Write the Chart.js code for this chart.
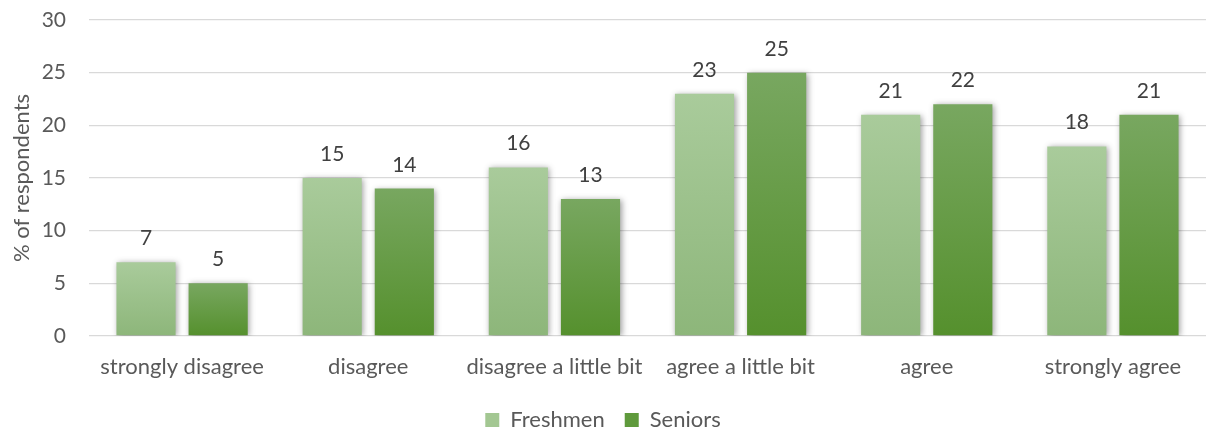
<!DOCTYPE html>
<html>
<head>
<meta charset="utf-8">
<script src="https://cdn.jsdelivr.net/npm/chart.js@4/dist/chart.umd.min.js"></script>
<style>
html,body{margin:0;padding:0;background:#fff;}
#wrap{width:1206px;height:432px;position:relative;}
</style>
</head>
<body>
<div id="wrap"><canvas id="c" width="1206" height="432"></canvas></div>
<script>
const categories = ["strongly disagree","disagree","disagree a little bit","agree a little bit","agree","strongly agree"];
const freshmen = [7,15,16,23,21,18];
const seniors = [5,14,13,25,22,21];
const seriesNames = ["Freshmen","Seniors"];
const yTicks = [0,5,10,15,20,25,30];

const FONT = "Lato, 'Open Sans', sans-serif";
const gradStops = [
  ["#a9cb9b","#8db67a"],
  ["#78a760","#55902d"]
];
const legendColors = ["#a3c792","#5f9a3c"];

function barGradient(ctx, dsIndex){
  const chart = ctx.chart;
  const y = chart.scales && chart.scales.y;
  if (!y || !chart.chartArea || ctx.raw === undefined) return legendColors[dsIndex];
  const top = y.getPixelForValue(ctx.raw);
  const base = y.getPixelForValue(0);
  const g = chart.ctx.createLinearGradient(0, top, 0, base);
  g.addColorStop(0, gradStops[dsIndex][0]);
  g.addColorStop(1, gradStops[dsIndex][1]);
  return g;
}

const shadowPlugin = {
  id: 'shadow',
  beforeDatasetsDraw(chart){
    const c = chart.ctx;
    c.save();
    c.shadowColor = 'rgba(0,0,0,0.38)';
    c.shadowBlur = 6;
    c.shadowOffsetX = 1.5;
    c.shadowOffsetY = 1;
  },
  afterDatasetsDraw(chart){
    chart.ctx.restore();
  }
};

const labelPlugin = {
  id: 'valueLabels',
  afterDatasetsDraw(chart){
    const c = chart.ctx;
    c.save();
    c.font = "21px " + FONT;
    c.fillStyle = "#404040";
    c.textAlign = "center";
    c.textBaseline = "alphabetic";
    chart.data.datasets.forEach((ds, i) => {
      const meta = chart.getDatasetMeta(i);
      meta.data.forEach((el, j) => {
        c.fillText(String(ds.data[j]), el.x, el.y - 17);
      });
    });
    c.restore();
  }
};

new Chart(document.getElementById('c'), {
  type: 'bar',
  data: {
    labels: categories,
    datasets: [
      { label: seriesNames[0], data: freshmen, backgroundColor: (ctx) => barGradient(ctx, 0),
        categoryPercentage: 0.775, barPercentage: 0.82 },
      { label: seriesNames[1], data: seniors, backgroundColor: (ctx) => barGradient(ctx, 1),
        categoryPercentage: 0.775, barPercentage: 0.82 }
    ]
  },
  options: {
    responsive: false,
    animation: false,
    devicePixelRatio: 1,
    layout: { padding: { top: 20, right: 0, left: 0, bottom: -9 } },
    plugins: {
      tooltip: { enabled: false },
      legend: {
        position: 'bottom',
        labels: {
          font: { family: FONT, size: 22 },
          color: "#595959",
          boxWidth: 14, boxHeight: 14,
          padding: 20,
          generateLabels(chart){
            return seriesNames.map((n, i) => ({
              text: n, fillStyle: legendColors[i], strokeStyle: legendColors[i],
              lineWidth: 0, hidden: false, datasetIndex: i, fontColor: "#595959"
            }));
          }
        }
      }
    },
    scales: {
      x: {
        grid: { display: false, drawTicks: false },
        border: { display: false },
        ticks: { font: { family: FONT, size: 22 }, color: "#595959", padding: 18, maxRotation: 0, autoSkip: false },
        afterFit(s){ s.height = 53; s.paddingLeft = 0; s.paddingRight = 0; }
      },
      y: {
        min: 0, max: 30,
        afterBuildTicks(s){ s.ticks = yTicks.map(v => ({ value: v })); },
        grid: { color: "#d9d9d9", lineWidth: 1.3, drawTicks: false },
        border: { display: false },
        ticks: { font: { family: FONT, size: 21 }, color: "#595959", padding: 23 },
        title: { display: true, text: "% of respondents", font: { family: FONT, size: 22 }, color: "#595959", padding: { top: 9, bottom: 4 } },
        afterFit(s){ s.width = 89; s.paddingTop = 0; s.paddingBottom = 0; }
      }
    }
  },
  plugins: [shadowPlugin, labelPlugin]
});
</script>
</body>
</html>
